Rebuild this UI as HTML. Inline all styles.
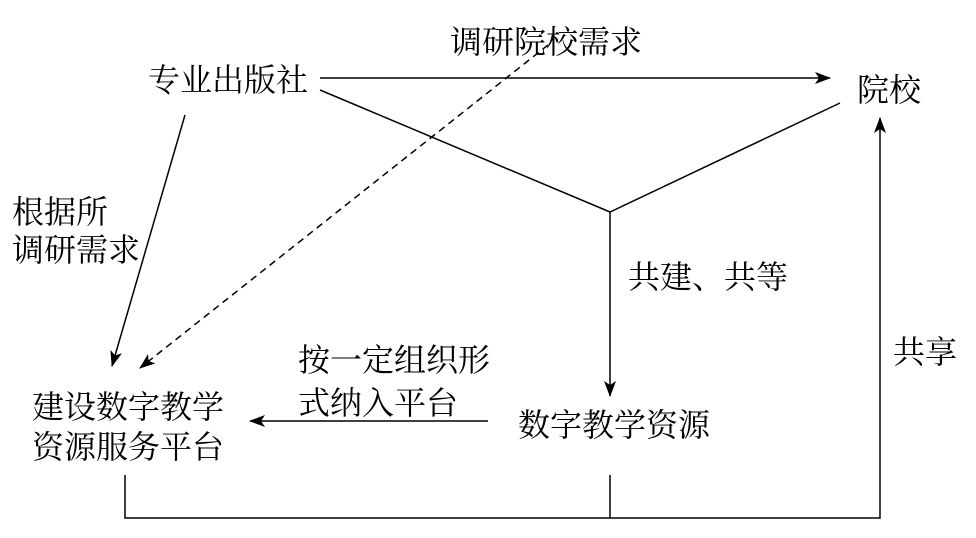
<!DOCTYPE html>
<html><head><meta charset="utf-8"><style>
html,body{margin:0;padding:0;background:#fff;width:976px;height:538px;overflow:hidden}
svg text{font-family:"Liberation Serif","Noto Serif CJK SC",serif;font-size:32px;fill:#000}
</style></head><body>
<svg width="976" height="538" viewBox="0 0 976 538" xmlns="http://www.w3.org/2000/svg">
<defs><marker id="a" markerWidth="16" markerHeight="12" refX="15" refY="6" orient="auto" markerUnits="userSpaceOnUse"><path d="M0,0 L16,6 L0,12 L4,6 Z" fill="#000"/></marker></defs>
<g stroke="#000" stroke-width="1.5" fill="none">
<line x1="320" y1="78" x2="830" y2="78" marker-end="url(#a)"/>
<polyline points="320,90 610,212 840,103"/>
<line x1="610" y1="212" x2="610" y2="396" marker-end="url(#a)"/>
<line x1="548" y1="45" x2="140" y2="368" stroke-dasharray="7,5" marker-end="url(#a)"/>
<line x1="185" y1="115" x2="112" y2="366" marker-end="url(#a)"/>
<line x1="488" y1="421" x2="250" y2="421" marker-end="url(#a)"/>
<polyline points="125,475 125,518 880,518 880,118" marker-end="url(#a)"/>
<line x1="610" y1="475" x2="610" y2="518"/>
</g>
<text x="148" y="91">专业出版社</text>
<text x="857" y="101">院校</text>
<text x="450" y="53">调研院校需求</text>
<text x="12" y="223">根据所</text>
<text x="12" y="261">调研需求</text>
<text x="628" y="288">共建、共等</text>
<text x="893" y="363">共享</text>
<text x="298" y="371">按一定组织形</text>
<text x="298" y="414">式纳入平台</text>
<text x="32" y="418">建设数字教学</text>
<text x="32" y="458">资源服务平台</text>
<text x="518" y="436">数字教学资源</text>
</svg>
</body></html>
